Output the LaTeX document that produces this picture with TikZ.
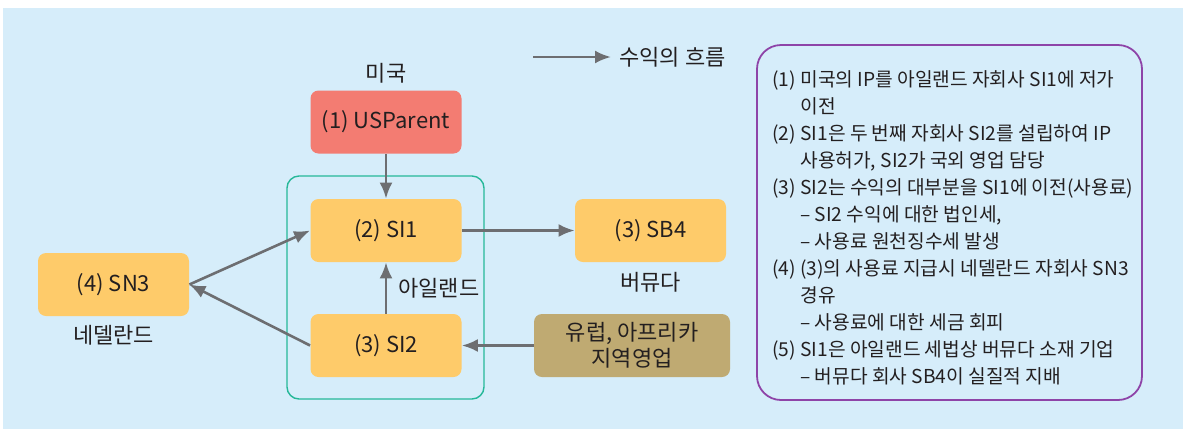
\documentclass[tikz,border=0pt]{standalone}
\usepackage{fontspec}
\setmainfont{Noto Sans CJK KR}
\usetikzlibrary{arrows.meta}
\definecolor{bgblue}{RGB}{214,237,250}
\definecolor{boxred}{RGB}{243,124,114}
\definecolor{boxyel}{RGB}{254,203,106}
\definecolor{boxbrown}{RGB}{191,170,114}
\definecolor{tealc}{RGB}{38,184,153}
\definecolor{purplec}{RGB}{142,68,168}
\definecolor{arrowgray}{RGB}{109,110,113}
\definecolor{txt}{RGB}{35,31,32}
\begin{document}
\begin{tikzpicture}[x=0.5pt,y=-0.5pt,
  every node/.style={text=txt},
  entity/.style={rounded corners=4pt, minimum width=75.5pt, minimum height=31.5pt, inner sep=0pt, font=\fontsize{11}{13}\selectfont, align=center},
  redbox/.style={entity, fill=boxred},
  yelbox/.style={entity, fill=boxyel},
  brownbox/.style={entity, fill=boxbrown, minimum width=98pt},
  lbl/.style={font=\fontsize{11}{13}\selectfont, inner sep=0pt},
  flow/.style={draw=arrowgray, line width=1.3pt, -{Latex[length=8pt,width=6.5pt]}}
]
\useasboundingbox (0,0) rectangle (1185,430);
\fill[bgblue] (3,8) rectangle (1183,429);

% Ireland group
\draw[tealc, line width=0.7pt, rounded corners=6pt] (287,176) rectangle (484,399);

% nodes
\node[redbox] (us) at (386,122) {(1) USParent};
\node[lbl] (uslbl) at (386,73) {미국};
\node[yelbox] (si1) at (386,230.5) {(2) SI1};
\node[yelbox] (sb4) at (650.5,230.5) {(3) SB4};
\node[lbl] (sb4lbl) at (650.5,282) {버뮤다};
\node[yelbox] (si2) at (386,345.5) {(3) SI2};
\node[brownbox] (eu) at (632,345.5) {유럽, 아프리카\\지역영업};
\node[yelbox] (sn3) at (113.5,284.5) {(4) SN3};
\node[lbl] (sn3lbl) at (113.5,335) {네델란드};
\node[lbl, anchor=west] (ielbl) at (398,288) {아일랜드};

% connectors
\draw[flow] (us) -- (si1);
\draw[flow] (si1) -- (sb4);
\draw[flow] (si2) -- (si1);
\draw[flow] (eu) -- (si2);
\draw[flow] (sn3.east) -- (si1.west);
\draw[flow] (si2.west) -- (sn3.east);

% legend
\coordinate (la) at (533,57);
\coordinate (lb) at (611,57);
\draw[flow] (la) -- (lb);
\node[lbl, anchor=west] (legtxt) at (619,57) {수익의 흐름};

% explanation box
\draw[purplec, line width=0.9pt, rounded corners=12pt] (757,45) rectangle (1142,400);
\node[anchor=north west, inner sep=0pt, align=left, font=\fontsize{9.6}{13.5}\selectfont] (notes) at (772,70.5) {%
(1) 미국의 IP를 아일랜드 자회사 SI1에 저가\\
\phantom{(1) }이전\\
(2) SI1은 두 번째 자회사 SI2를 설립하여 IP\\
\phantom{(2) }사용허가, SI2가 국외 영업 담당\\
(3) SI2는 수익의 대부분을 SI1에 이전(사용료)\\
\phantom{(3) }– SI2 수익에 대한 법인세,\\
\phantom{(3) }– 사용료 원천징수세 발생\\
(4) (3)의 사용료 지급시 네델란드 자회사 SN3\\
\phantom{(4) }경유\\
\phantom{(4) }– 사용료에 대한 세금 회피\\
(5) SI1은 아일랜드 세법상 버뮤다 소재 기업\\
\phantom{(5) }– 버뮤다 회사 SB4이 실질적 지배};
\end{tikzpicture}
\end{document}
